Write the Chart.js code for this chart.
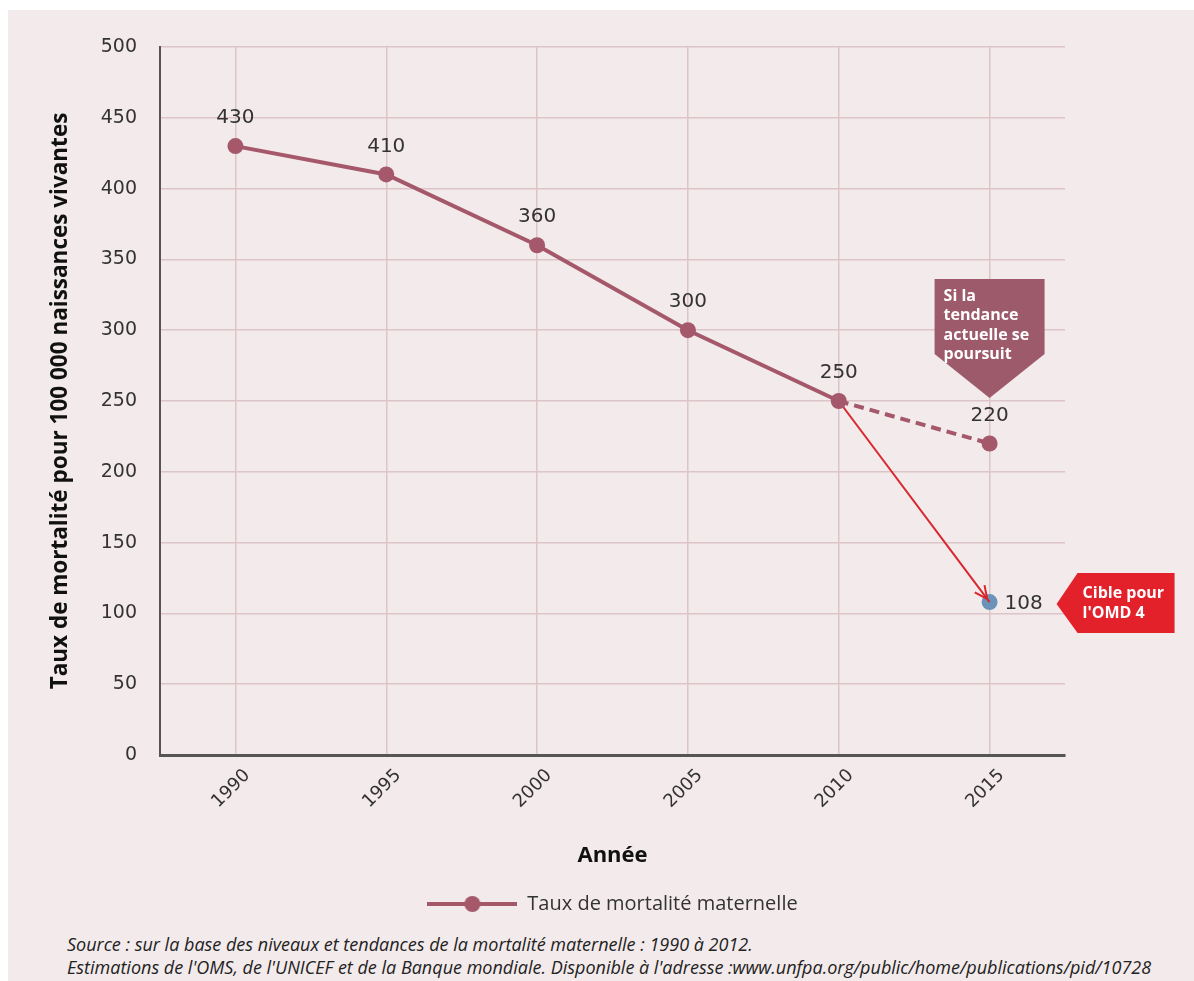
<!DOCTYPE html>
<html lang="fr">
<head>
  <meta charset="UTF-8" />
  <title>Taux de mortalité maternelle</title>
  <script src="https://cdn.jsdelivr.net/npm/chart.js"></script>
  <style>
    html, body { margin: 0; padding: 0; background: #ffffff; }
    #wrap { position: relative; width: 1194px; height: 981px; overflow: hidden; }
    #fond { position: absolute; left: 8px; top: 10px; right: 0; bottom: 0; background: #f3eaeb; }
    #chart { position: absolute; left: 0; top: 0; }
    .source {
      position: absolute; left: 67px; top: 933px;
      font-family: "Open Sans", sans-serif;
      font-style: italic; font-size: 18px; line-height: 23px; color: #222;
      white-space: nowrap;
    }
  </style>
</head>
<body>
  <div id="wrap">
    <div id="fond"></div>
    <canvas id="chart" width="1194" height="930"></canvas>
    <div class="source">
      Source : sur la base des niveaux et tendances de la mortalité maternelle : 1990 à 2012.<br>
      Estimations de l'OMS, de l'UNICEF et de la Banque mondiale. Disponible à l'adresse :www.unfpa.org/public/home/publications/pid/10728
    </div>
  </div>

  <script>
    const annees = ['1990', '1995', '2000', '2005', '2010', '2015'];
    const taux = [430, 410, 360, 300, 250, null];          // série observée
    const tendance = [null, null, null, null, 250, 220];   // si la tendance actuelle se poursuit
    const cible = [null, null, null, null, 250, 108];      // flèche vers la cible OMD 4
    const pointCible = [null, null, null, null, null, 108];
    const yTicks = [0, 50, 100, 150, 200, 250, 300, 350, 400, 450, 500];

    const MAUVE = '#a4586a';
    const ROUGE = '#d9252c';
    const BLEU = '#6b93ba';
    const TEXTE = '#333333';

    // petit dessin ligne + point pour la légende
    const legendeImg = document.createElement('canvas');
    legendeImg.width = 90; legendeImg.height = 20;
    (function () {
      const c = legendeImg.getContext('2d');
      c.strokeStyle = MAUVE; c.lineWidth = 4;
      c.beginPath(); c.moveTo(0, 10); c.lineTo(90, 10); c.stroke();
      c.fillStyle = MAUVE;
      c.beginPath(); c.arc(45, 10, 8, 0, Math.PI * 2); c.fill();
    })();

    // étiquettes de valeurs, flèche et encadrés
    const annotations = {
      id: 'annotations',
      afterDatasetsDraw(chart) {
        const ctx = chart.ctx;
        const x = chart.scales.x, y = chart.scales.y;
        ctx.save();

        // pointe de flèche
        const p0 = chart.getDatasetMeta(2).data[4];
        const p1 = chart.getDatasetMeta(2).data[5];
        const a = Math.atan2(p1.y - p0.y, p1.x - p0.x);
        const tx = p1.x - Math.cos(a) * 4, ty = p1.y - Math.sin(a) * 4;
        ctx.strokeStyle = ROUGE; ctx.lineWidth = 2;
        ctx.beginPath();
        ctx.moveTo(tx - 14 * Math.cos(a - 0.45), ty - 14 * Math.sin(a - 0.45));
        ctx.lineTo(tx, ty);
        ctx.lineTo(tx - 14 * Math.cos(a + 0.45), ty - 14 * Math.sin(a + 0.45));
        ctx.stroke();

        ctx.font = '20px "DejaVu Sans"';
        ctx.fillStyle = TEXTE;
        ctx.textAlign = 'center';
        ctx.textBaseline = 'middle';
        const principal = chart.getDatasetMeta(0).data;
        taux.forEach((v, i) => {
          if (v !== null) ctx.fillText(v, principal[i].x, principal[i].y - 28);
        });
        const pt = chart.getDatasetMeta(1).data[5];
        ctx.fillText(tendance[5], pt.x, pt.y - 28);
        const pc = chart.getDatasetMeta(3).data[5];
        ctx.textAlign = 'left';
        ctx.fillText(pointCible[5], pc.x + 15, pc.y + 2);

        // encadré mauve
        const cx = x.getPixelForValue(5);
        const tipY = y.getPixelForValue(250) - 3;
        ctx.fillStyle = '#9c5a6b';
        ctx.beginPath();
        ctx.moveTo(cx - 55, tipY - 119);
        ctx.lineTo(cx + 55, tipY - 119);
        ctx.lineTo(cx + 55, tipY - 44);
        ctx.lineTo(cx, tipY);
        ctx.lineTo(cx - 55, tipY - 44);
        ctx.closePath();
        ctx.fill();
        ctx.fillStyle = '#ffffff';
        ctx.font = 'bold 16px "Open Sans"';
        ['Si la', 'tendance', 'actuelle se', 'poursuit'].forEach((t, i) => {
          ctx.fillText(t, cx - 46, tipY - 102 + i * 19.5);
        });

        // encadré rouge
        const rx = cx + 67, ry = y.getPixelForValue(108) + 2;
        ctx.fillStyle = '#e3212b';
        ctx.beginPath();
        ctx.moveTo(rx, ry);
        ctx.lineTo(rx + 21, ry - 31);
        ctx.lineTo(rx + 118, ry - 31);
        ctx.lineTo(rx + 118, ry + 29);
        ctx.lineTo(rx + 21, ry + 29);
        ctx.closePath();
        ctx.fill();
        ctx.fillStyle = '#ffffff';
        ['Cible pour', "l'OMD 4"].forEach((t, i) => {
          ctx.fillText(t, rx + 26, ry - 11 + i * 20);
        });
        ctx.restore();
      }
    };

    new Chart(document.getElementById('chart'), {
      type: 'line',
      data: {
        labels: annees,
        datasets: [
          { label: 'Taux de mortalité maternelle', data: taux, borderColor: MAUVE, backgroundColor: MAUVE,
            borderWidth: 4, pointRadius: 8, pointBorderWidth: 0, pointBackgroundColor: MAUVE, order: 1 },
          { label: 'tendance', data: tendance, borderColor: MAUVE, backgroundColor: MAUVE, borderWidth: 4,
            borderDash: [10, 6], pointRadius: [0, 0, 0, 0, 0, 8], pointBorderWidth: 0, order: 2 },
          { label: 'cible', data: cible, borderColor: ROUGE, borderWidth: 2, pointRadius: 0, order: 3 },
          { label: 'point cible', data: pointCible, showLine: false, pointRadius: 8, pointBorderWidth: 0,
            pointBackgroundColor: BLEU, order: 4 }
        ]
      },
      options: {
        responsive: false,
        animation: false,
        layout: { padding: { left: 45, right: 129, top: 47, bottom: 6 } },
        plugins: {
          tooltip: { enabled: false },
          legend: {
            position: 'bottom',
            fullSize: false,
            labels: {
              usePointStyle: true,
              pointStyleWidth: 90,
              color: TEXTE,
              font: { family: '"Open Sans"', size: 20 },
              padding: 14,
              generateLabels: chart => [{
                text: 'Taux de mortalité maternelle', pointStyle: legendeImg,
                fontColor: TEXTE, datasetIndex: 0, lineWidth: 0, strokeStyle: 'transparent', fillStyle: MAUVE
              }]
            }
          }
        },
        scales: {
          x: {
            offset: true,
            afterFit: s => { s.height = 125; },
            grid: { color: '#dcc4c8', lineWidth: 1.5, offset: false, drawTicks: false },
            border: { color: '#555555', width: 3 },
            ticks: { color: TEXTE, font: { family: '"DejaVu Sans"', size: 18 }, minRotation: 45, maxRotation: 45,
              padding: 10, labelOffset: 12 },
            title: { display: true, text: 'Année', color: '#111', font: { family: '"Open Sans"', size: 22, weight: 'bold' },
              padding: { top: 4, bottom: 11 } }
          },
          y: {
            min: 0, max: 500,
            afterFit: s => { s.width = 115; },
            afterBuildTicks: s => { s.ticks = yTicks.map(v => ({ value: v })); },
            grid: { color: '#dcc4c8', lineWidth: 1.5, drawTicks: false },
            border: { color: '#555555', width: 2 },
            ticks: { color: TEXTE, font: { family: '"DejaVu Sans"', size: 19 }, padding: 23 },
            title: { display: true, text: 'Taux de mortalité pour 100 000 naissances vivantes', color: '#111',
              font: { family: '"Open Sans"', size: 22.5, weight: 'bold' }, padding: 2 }
          }
        }
      },
      plugins: [annotations]
    });
  </script>
</body>
</html>
